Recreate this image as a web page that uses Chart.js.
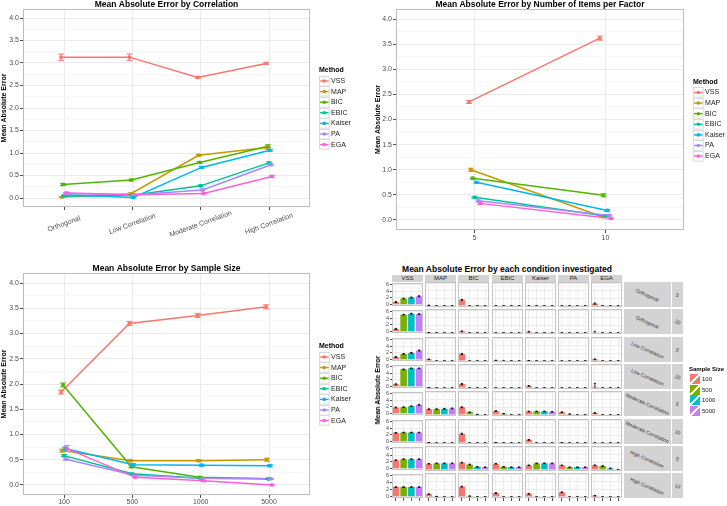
<!DOCTYPE html>
<html><head><meta charset="utf-8">
<script src="https://cdn.jsdelivr.net/npm/chart.js@4.4.0/dist/chart.umd.min.js"></script>
<style>
html,body{margin:0;padding:0;background:#fff;}
body{width:727px;height:506px;position:relative;overflow:hidden;font-family:"Liberation Sans",Arial,sans-serif;}
canvas{position:absolute;display:block;}
.strip{position:absolute;background:#d3d3d3;box-sizing:border-box;display:flex;align-items:center;justify-content:center;color:#1a1a1a;white-space:nowrap;}
.colstrip{font-size:6px;line-height:7px;overflow:hidden;}
.rowstrip span{display:inline-block;font-size:5px;line-height:6px;transform:rotate(24deg);color:#333;}
.txt{position:absolute;white-space:nowrap;}
</style></head><body>
<canvas id="cCorr" width="363" height="253" style="left:0;top:0"></canvas>
<canvas id="cItems" width="364" height="253" style="left:363px;top:0"></canvas>
<canvas id="cSize" width="363" height="253" style="left:0;top:253px"></canvas>
<script>
// ---------------- DATA ----------------
const methods = ['VSS','MAP','BIC','EBIC','Kaiser','PA','EGA'];
const methodColors = ['#F8766D','#C49A00','#53B400','#00C094','#00B6EB','#A58AFF','#FB61D7'];

// Panel 1: by correlation
const corrLevels = ['Orthogonal','Low Correlation','Moderate Correlation','High Correlation'];
const corrVSS    = [3.13, 3.13, 2.68, 2.99];
const corrMAP    = [0.02, 0.09, 0.95, 1.12];
const corrBIC    = [0.30, 0.40, 0.79, 1.15];
const corrEBIC   = [0.04, 0.06, 0.27, 0.78];
const corrKaiser = [0.07, 0.01, 0.68, 1.06];
const corrPA     = [0.10, 0.07, 0.18, 0.74];
const corrEGA    = [0.11, 0.07, 0.10, 0.48];
const corrErr = [[0.07,0.07,0.02,0.02],[0.01,0.02,0.02,0.03],[0.02,0.02,0.02,0.03],[0.01,0.01,0.02,0.02],[0.01,0.01,0.02,0.02],[0.02,0.01,0.02,0.02],[0.02,0.01,0.01,0.02]];

// Panel 2: by number of items per factor
const itemLevels = ['5','10'];
const itemVSS    = [2.35, 3.62];
const itemMAP    = [1.00, 0.07];
const itemBIC    = [0.83, 0.49];
const itemEBIC   = [0.45, 0.08];
const itemKaiser = [0.75, 0.19];
const itemPA     = [0.38, 0.09];
const itemEGA    = [0.33, 0.03];
const itemErr = [[0.03,0.04],[0.03,0.01],[0.02,0.03],[0.02,0.01],[0.02,0.02],[0.02,0.01],[0.02,0.01]];

// Panel 3: by sample size
const sizeLevels = ['100','500','1000','5000'];
const sizeVSS    = [1.84, 3.20, 3.36, 3.53];
const sizeMAP    = [0.68, 0.48, 0.48, 0.50];
const sizeBIC    = [1.98, 0.36, 0.15, 0.12];
const sizeEBIC   = [0.58, 0.22, 0.13, 0.12];
const sizeKaiser = [0.72, 0.40, 0.39, 0.38];
const sizePA     = [0.51, 0.19, 0.13, 0.12];
const sizeEGA    = [0.72, 0.15, 0.08, 0.00];
const sizeErr = [[0.04,0.04,0.04,0.04],[0.03,0.02,0.02,0.03],[0.04,0.02,0.02,0.01],[0.02,0.01,0.01,0.01],[0.03,0.02,0.02,0.02],[0.02,0.01,0.01,0.01],[0.06,0.01,0.01,0.00]];

// Panel 4: facets (rows = correlation x items, columns = methods, bars = sample size)
const sampleColors = ['#F8766D','#7CAE00','#00BFC4','#C77CFF'];
const facetRowCorr  = ['Orthogonal','Orthogonal','Low Correlation','Low Correlation','Moderate Correlation','Moderate Correlation','High Correlation','High Correlation'];
const facetRowItems = ['5','10','5','10','5','10','5','10'];
const orth5  = [[0.8,1.8,2.1,2.5],[0.15,0,0,0],[1.6,0,0,0],[0,0,0,0],[0,0,0,0],[0,0,0,0],[0.6,0,0,0]];
const orth10 = [[0.8,5.0,5.3,5.2],[0.05,0,0,0],[0.4,0,0,0],[0,0,0,0],[0.3,0,0,0],[0,0,0,0],[0.1,0,0,0]];
const low5   = [[0.8,1.7,2.0,2.7],[0.4,0,0,0],[1.8,0,0,0],[0.1,0,0,0],[0.05,0,0,0],[0,0,0,0],[0.4,0,0,0]];
const low10  = [[0.7,5.1,5.4,5.4],[0.03,0,0,0],[1.0,0,0,0],[0,0,0,0],[0.5,0,0,0],[0,0,0,0],[0.3,0,0,0]];
const mod5   = [[1.8,1.9,2.2,2.6],[1.5,1.5,1.6,1.7],[2.0,0.7,0.1,0],[1.0,0.3,0,0],[0.9,0.9,0.9,0.8],[0.7,0.2,0,0],[0.5,0,0,0]];
const mod10  = [[2.6,2.7,2.7,2.7],[0.05,0,0,0],[2.4,0,0,0],[0.05,0,0,0],[0.8,0,0,0],[0.05,0,0,0],[0,0,0,0]];
const high5  = [[2.5,2.8,2.8,2.8],[1.6,1.7,1.7,1.7],[1.9,1.4,0.8,0.7],[1.6,0.8,0.7,0.7],[1.2,1.7,1.7,1.7],[1.2,0.7,0.7,0.7],[1.2,1.0,0.4,0]];
const high10 = [[2.7,2.7,2.7,2.7],[0.7,0.1,0,0],[2.7,0.2,0,0],[1.0,0,0,0],[0.8,0,0,0],[1.2,0,0,0],[0.3,0,0,0]];
const orth5Err  = [[0.15,0.12,0.12,0.15],[0.05,0,0,0],[0.12,0,0,0],[0,0,0,0],[0.02,0,0,0],[0,0,0,0],[0.15,0,0,0]];
const orth10Err = [[0.15,0.1,0.1,0.1],[0.03,0,0,0],[0.1,0,0,0],[0,0,0,0],[0.1,0,0,0],[0,0,0,0],[0.3,0,0,0]];
const low5Err   = [[0.15,0.12,0.12,0.15],[0.08,0,0,0],[0.15,0,0,0],[0.05,0,0,0],[0.03,0,0,0],[0,0,0,0],[0.1,0,0,0]];
const low10Err  = [[0.15,0.1,0.1,0.1],[0.02,0,0,0],[0.15,0,0,0],[0,0,0,0],[0.1,0,0,0],[0,0,0,0],[0.9,0,0,0]];
const mod5Err   = [[0.1,0.1,0.1,0.15],[0.1,0.1,0.1,0.1],[0.12,0.08,0.03,0],[0.1,0.05,0,0],[0.08,0.08,0.08,0.08],[0.08,0.04,0,0],[0.1,0,0,0]];
const mod10Err  = [[0.08,0.08,0.08,0.08],[0.03,0,0,0],[0.15,0,0,0],[0.03,0,0,0],[0.1,0,0,0],[0.03,0,0,0],[0,0,0,0]];
const high5Err  = [[0.1,0.1,0.1,0.1],[0.08,0.08,0.08,0.08],[0.1,0.1,0.08,0.08],[0.08,0.08,0.08,0.08],[0.08,0.08,0.08,0.08],[0.08,0.08,0.08,0.08],[0.1,0.1,0.08,0]];
const high10Err = [[0.08,0.08,0.08,0.08],[0.1,0.03,0,0],[0.12,0.05,0,0],[0.12,0,0,0],[0.1,0,0,0],[0.12,0,0,0],[0.08,0,0,0]];
const facetRows = [orth5, orth10, low5, low10, mod5, mod10, high5, high10];
const facetErrs = [orth5Err, orth10Err, low5Err, low10Err, mod5Err, mod10Err, high5Err, high10Err];

// ---------------- PLUGINS ----------------
const FF = '"Liberation Sans", Arial, sans-serif';
Chart.defaults.font.family = FF;
Chart.defaults.font.size = 7;
Chart.defaults.animation = false;
Chart.defaults.responsive = false;
Chart.defaults.events = [];
Chart.defaults.plugins.legend.display = false;
Chart.defaults.plugins.tooltip.enabled = false;
Chart.defaults.plugins.title.display = false;

const panelBorder = {
  id: 'panelBorder',
  afterDraw(chart, args, o) {
    const {ctx, chartArea: a} = chart;
    ctx.save();
    ctx.strokeStyle = o.color || '#bdbdbd';
    ctx.lineWidth = 1;
    const l = Math.round(a.left), t = Math.round(a.top), r = Math.round(a.right), b = Math.round(a.bottom);
    ctx.strokeRect(l + 0.5, t + 0.5, r - l - 1, b - t - 1);
    ctx.restore();
  }
};

const errorBars = {
  id: 'errorBars',
  afterDatasetsDraw(chart, args, o) {
    const ctx = chart.ctx;
    chart.data.datasets.forEach((ds, di) => {
      if (!ds.errs) return;
      const meta = chart.getDatasetMeta(di);
      const ys = chart.scales[meta.yAxisID];
      ctx.save();
      ctx.strokeStyle = ds.errColor || ds.borderColor;
      ctx.lineWidth = o.width || 1;
      meta.data.forEach((el, i) => {
        const raw = ds.data[i];
        const v = (typeof raw === 'object') ? raw.y : raw;
        const e = ds.errs[i];
        if (e == null) return;
        const x = el.x, y1 = ys.getPixelForValue(v - e), y2 = ys.getPixelForValue(v + e), c = o.cap || 3;
        ctx.beginPath();
        ctx.moveTo(x, y1); ctx.lineTo(x, y2);
        ctx.moveTo(x - c, y1); ctx.lineTo(x + c, y1);
        ctx.moveTo(x - c, y2); ctx.lineTo(x + c, y2);
        ctx.stroke();
      });
      ctx.restore();
    });
  }
};

const ggTitle = {
  id: 'ggTitle',
  afterDraw(chart, args, o) {
    if (!o || !o.text) return;
    const {ctx, chartArea: a} = chart;
    ctx.save();
    ctx.font = 'bold 8.5px ' + FF;
    ctx.fillStyle = '#000';
    ctx.textAlign = 'center';
    ctx.textBaseline = 'middle';
    ctx.fillText(o.text, (a.left + a.right) / 2, o.y);
    ctx.restore();
  }
};

const rotLabels = {
  id: 'rotLabels',
  afterDraw(chart, args, o) {
    if (!o || !o.labels) return;
    const {ctx, chartArea: a} = chart;
    const xs = chart.scales.x;
    ctx.save();
    ctx.font = '7px ' + FF;
    ctx.fillStyle = '#4d4d4d';
    ctx.textAlign = 'center';
    ctx.textBaseline = 'middle';
    xs.ticks.forEach(t => {
      const lab = o.labels[Math.round(t.value) - 1];
      if (!lab) return;
      ctx.save();
      ctx.translate(xs.getPixelForValue(t.value), a.bottom + o.dy);
      ctx.rotate(o.angle * Math.PI / 180);
      ctx.fillText(lab, 0, 0);
      ctx.restore();
    });
    ctx.restore();
  }
};

const ggLegend = {
  id: 'ggLegend',
  afterDraw(chart, args, o) {
    if (!o || !o.title) return;
    const {ctx, chartArea: a} = chart;
    const ds = chart.data.datasets;
    const step = o.step, x0 = a.right + o.dx;
    const titleY = (a.top + a.bottom) / 2 - ds.length * step / 2 + (o.dy || 0);
    ctx.save();
    ctx.textAlign = 'left';
    ctx.textBaseline = 'middle';
    ctx.font = 'bold 7px ' + FF;
    ctx.fillStyle = '#000';
    ctx.fillText(o.title, x0, titleY);
    ds.forEach((d, i) => {
      const cy = titleY + step * (i + 1);
      const by = Math.round(cy - step / 2);
      ctx.fillStyle = '#ffffff';
      ctx.fillRect(x0, by, step, step);
      ctx.strokeStyle = '#d9d9d9';
      ctx.lineWidth = 1;
      ctx.strokeRect(x0 + 0.5, by + 0.5, step - 1, step - 1);
      ctx.strokeStyle = d.borderColor;
      ctx.lineWidth = 1.4;
      ctx.beginPath(); ctx.moveTo(x0 + 1, cy); ctx.lineTo(x0 + step - 1, cy); ctx.stroke();
      ctx.fillStyle = d.borderColor;
      ctx.beginPath(); ctx.arc(x0 + step / 2, cy, 1.8, 0, Math.PI * 2); ctx.fill();
      ctx.fillStyle = '#1a1a1a';
      ctx.font = '7px ' + FF;
      ctx.fillText(d.label, x0 + step + 1.5, cy);
    });
    ctx.restore();
  }
};

Chart.register(panelBorder, errorBars, ggTitle, rotLabels, ggLegend);

// ---------------- LINE PANELS ----------------
const DODGE = 0.085;
const isMajor = v => Math.abs(v * 2 - Math.round(v * 2)) < 1e-6;

function lineChart(id, o) {
  const n = o.series.length;
  const datasets = o.series.map((vals, s) => ({
    label: methods[s],
    data: vals.map((v, i) => ({x: i + 1 + (s - (n - 1) / 2) * DODGE / (n - 1), y: v})),
    borderColor: methodColors[s],
    backgroundColor: methodColors[s],
    pointBackgroundColor: methodColors[s],
    borderWidth: 1.5,
    pointRadius: 1.9,
    pointBorderWidth: 0,
    tension: 0,
    errs: o.errs[s],
    order: n - s
  }));
  new Chart(document.getElementById(id), {
    type: 'line',
    data: {datasets},
    options: {
      layout: {autoPadding: false, padding: {left: o.padL, right: o.padR, top: o.padT, bottom: 0}},
      scales: {
        x: {
          type: 'linear', min: 0.4, max: o.cats.length + 0.6,
          ticks: {stepSize: 1, includeBounds: false, autoSkip: false, maxRotation: 0, minRotation: 0,
                  display: !o.rotate, font: {size: 7}, color: '#4d4d4d', padding: o.xPad,
                  callback: v => o.cats[Math.round(v) - 1] || ''},
          grid: {color: '#ebebeb', drawTicks: true, tickLength: 3, tickColor: '#4d4d4d'},
          border: {display: false},
          afterFit: s => { s.height = o.xH; }
        },
        y: {
          min: -0.2, max: 4.2,
          ticks: {stepSize: 0.25, includeBounds: false, autoSkip: false, font: {size: 7}, color: '#4d4d4d', padding: 1,
                  callback: v => isMajor(v) ? v.toFixed(1) : ''},
          grid: {color: c => isMajor(c.tick.value) ? '#ebebeb' : '#f7f7f7', drawTicks: true, tickLength: 3,
                 tickColor: c => isMajor(c.tick.value) ? '#4d4d4d' : 'rgba(0,0,0,0)'},
          border: {display: false},
          title: {display: true, text: 'Mean Absolute Error', font: {size: 7, weight: 'bold'}, color: '#000', padding: 0},
          afterFit: s => { s.width = o.yW; }
        }
      },
      plugins: {
        panelBorder: {color: '#bdbdbd'},
        errorBars: {cap: 3, width: 1},
        ggTitle: {text: o.title, y: o.titleY},
        rotLabels: o.rotate ? {labels: o.cats, angle: -20, dy: 17} : {},
        ggLegend: {title: 'Method', step: 10.6, dx: 9, dy: -0.5}
      }
    }
  });
}

lineChart('cCorr', {
  series: [corrVSS, corrMAP, corrBIC, corrEBIC, corrKaiser, corrPA, corrEGA], errs: corrErr,
  cats: corrLevels, rotate: true, title: 'Mean Absolute Error by Correlation', titleY: 4.7,
  padL: 0, padR: 53, padT: 9, yW: 23, xH: 46, xPad: 1
});
lineChart('cItems', {
  series: [itemVSS, itemMAP, itemBIC, itemEBIC, itemKaiser, itemPA, itemEGA], errs: itemErr,
  cats: itemLevels, rotate: false, title: 'Mean Absolute Error by Number of Items per Factor', titleY: 4.7,
  padL: 11, padR: 43, padT: 9, yW: 22, xH: 23, xPad: 1
});
lineChart('cSize', {
  series: [sizeVSS, sizeMAP, sizeBIC, sizeEBIC, sizeKaiser, sizePA, sizeEGA], errs: sizeErr,
  cats: sizeLevels, rotate: false, title: 'Mean Absolute Error by Sample Size', titleY: 15.7,
  padL: 0, padR: 53, padT: 20, yW: 23, xH: 11, xPad: 0
});

// ---------------- FACET PANEL ----------------
const FX0 = 392, FXP = 33.2, FW = 31, FY0 = 282, FYP = 27.3, FH = 25;

function facetChart(cv, vals, errs, isLeft, isBottom, padV) {
  new Chart(cv, {
    type: 'bar',
    data: {labels: sizeLevels, datasets: [{data: vals, errs: errs, errColor: '#000', backgroundColor: sampleColors,
           borderWidth: 0, barPercentage: 0.85, categoryPercentage: 1}]},
    options: {
      layout: {autoPadding: false, padding: {top: padV, bottom: isBottom ? 0 : padV, left: 0, right: 0}},
      scales: {
        x: {grid: {offset: false, color: '#ebebeb', drawTicks: isBottom, tickLength: 3, tickColor: '#4d4d4d'},
            ticks: {display: false}, border: {display: false},
            afterFit: s => { s.height = isBottom ? 4 : 0; }},
        y: {min: -0.3, max: 6.3,
            ticks: {stepSize: 1, includeBounds: false, display: isLeft, autoSkip: false, font: {size: 5.5},
                    color: '#4d4d4d', padding: 1, callback: v => (v % 2 === 0) ? String(v) : ''},
            grid: {color: c => (c.tick.value % 2 === 0) ? '#ebebeb' : '#f7f7f7', drawTicks: isLeft, tickLength: 2,
                   tickColor: c => (c.tick.value % 2 === 0) ? '#4d4d4d' : 'rgba(0,0,0,0)'},
            border: {display: false},
            afterFit: s => { s.width = isLeft ? 12 : 0; }}
      },
      plugins: {panelBorder: {color: '#c4c4c4'}, errorBars: {cap: 1.2, width: 0.8},
                ggTitle: {}, rotLabels: {}, ggLegend: {}}
    }
  });
}

function addDiv(cls, css, html) {
  const d = document.createElement('div');
  d.className = cls;
  d.style.cssText = css;
  d.innerHTML = html;
  document.body.appendChild(d);
  return d;
}

// column strips
methods.forEach((m, j) => {
  const left = Math.round(FX0 + j * FXP);
  addDiv('strip colstrip', `left:${left}px;top:275px;width:${FW}px;height:7px;`, m);
});

facetRows.forEach((row, r) => {
  const top = Math.round(FY0 + r * FYP);
  const isBottom = r === facetRows.length - 1;
  row.forEach((vals, j) => {
    const left = Math.round(FX0 + j * FXP);
    const isLeft = j === 0;
    const padV = isLeft ? 3 : 0;
    const cv = document.createElement('canvas');
    const w = FW + (isLeft ? 12 : 0);
    const h = FH + (isBottom ? 4 : 0) + padV + (isBottom ? 0 : padV);
    cv.width = w; cv.height = h;
    cv.style.left = (left - (isLeft ? 12 : 0)) + 'px';
    cv.style.top = (top - padV) + 'px';
    document.body.appendChild(cv);
    facetChart(cv, vals, facetErrs[r][j], isLeft, isBottom, padV);
  });
  addDiv('strip rowstrip', `left:624px;top:${top}px;width:47px;height:${FH}px;`, `<span>${facetRowCorr[r]}</span>`);
  addDiv('strip rowstrip', `left:672px;top:${top}px;width:11px;height:${FH}px;`, `<span>${facetRowItems[r]}</span>`);
});

// facet title, y title, legend
addDiv('txt', `left:${FX0}px;top:264px;width:230px;text-align:center;font-weight:bold;font-size:8.5px;line-height:10px;color:#000;`,
       'Mean Absolute Error by each condition investigated');
addDiv('txt', `left:378px;top:390px;transform:translate(-50%,-50%) rotate(-90deg);font-weight:bold;font-size:7px;line-height:8px;color:#000;`,
       'Mean Absolute Error');
addDiv('txt', `left:689px;top:366px;font-weight:bold;font-size:6px;line-height:7px;color:#000;`, 'Sample Size');
sizeLevels.forEach((lab, i) => {
  const c = sampleColors[i];
  const top = Math.round(374 + i * 10.5);
  addDiv('txt', `left:690px;top:${top}px;width:10px;height:10px;background:linear-gradient(to bottom right, ${c} 44%, #fff 44%, #fff 56%, ${c} 56%);`, '');
  addDiv('txt', `left:702px;top:${top + 1}px;font-size:6px;line-height:8px;color:#1a1a1a;`, lab);
});
</script>
</body></html>
